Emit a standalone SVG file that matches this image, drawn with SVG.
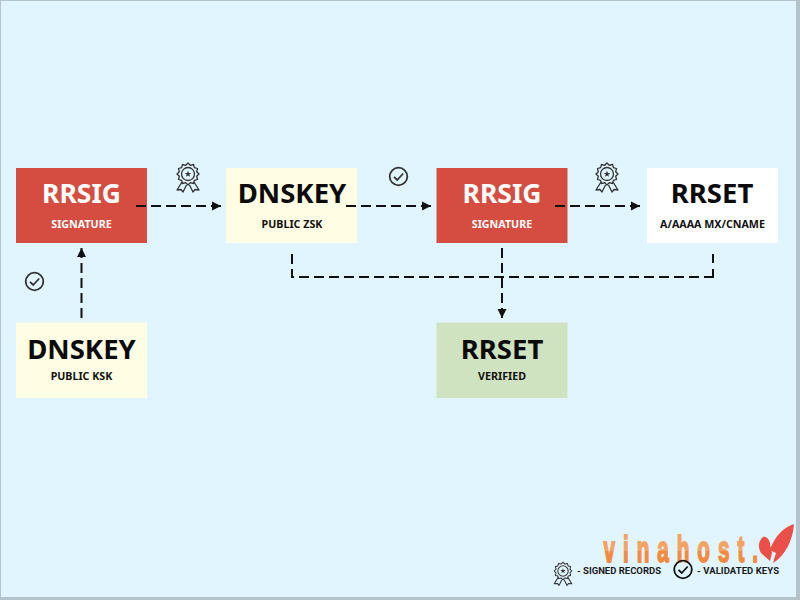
<svg xmlns="http://www.w3.org/2000/svg" width="800" height="600" viewBox="0 0 800 600">
<style>
.box{stroke:none}
.red{fill:#d54c41}.yel{fill:#fffde3}.wht{fill:#ffffff}.grn{fill:#cfe3c0}
.t{font-family:"Noto Sans","Open Sans",sans-serif;font-weight:700;text-anchor:middle}
.big{font-size:27.500px;fill:#0a0a0a}
.rs{font-size:26.500px}
.sub{font-size:10.700px;fill:#111}
.w{fill:#ffffff}
.lg{font-family:Roboto,"Liberation Sans",sans-serif;font-weight:700;font-size:9.500px;fill:#1a1a1a}
.con{fill:none;stroke:#111;stroke-width:2;stroke-dasharray:10 5}
.ic{fill:none;stroke:#333;stroke-width:1.300;stroke-linejoin:round}
</style>
<defs>
<marker id="ah" markerUnits="userSpaceOnUse" markerWidth="10" markerHeight="10" refX="9" refY="5" orient="auto"><path d="M0 .5L9 5L0 9.5Z" fill="#111"/></marker>
<linearGradient id="og" x1="0" y1="0" x2="0" y2="1"><stop offset="0" stop-color="#f6a261"/><stop offset=".55" stop-color="#f6a261"/><stop offset=".55" stop-color="#f28b3f"/><stop offset="1" stop-color="#f28b3f"/></linearGradient>
<symbol id="medal" overflow="visible" viewBox="-13 -13 26 34" width="26" height="34">
<path class="ic" d="M11 0L8.700 2.300L9.500 5.500L6.400 6.400L5.500 9.500L2.300 8.700L0 11L-2.300 8.700L-5.500 9.500L-6.400 6.400L-9.500 5.500L-8.700 2.300L-11 0L-8.700 -2.300L-9.500 -5.500L-6.400 -6.400L-5.500 -9.500L-2.300 -8.700L0 -11L2.300 -8.700L5.500 -9.500L6.400 -6.400L9.500 -5.500L8.700 -2.300Z"/>
<circle class="ic" r="6.500"/>
<path d="M0 -3.500L.8 -1.100L3.300 -1.100L1.300 .4L2.100 2.800L0 1.400L-2.100 2.800L-1.300 .4L-3.300 -1.100L-.8 -1.100Z" fill="#333"/>
<path class="ic" d="M-6 8L-11 16L-7 15.500L-5 18L-1.500 11M6 8L11 16L7 15.500L5 18L1.500 11"/>
</symbol>
<symbol id="check" overflow="visible" viewBox="-10 -10 20 20" width="20" height="20">
<circle r="8.800" fill="none" stroke="currentColor" stroke-width="1.800"/>
<path d="M-4.500 .3L-1.300 3.500L4.700 -3" fill="none" stroke="currentColor" stroke-width="1.800"/>
</symbol>
</defs>
<rect width="800" height="600" fill="#b4c3c9"/>
<rect x="1" y="1" width="795" height="596" fill="#e0f5ff"/>

<g id="node-rrsig-1"><rect class="box red" x="16" y="168" width="131" height="75"/><text class="t big rs w" x="81.500" y="203">RRSIG</text><text class="t sub w" x="81.500" y="227.500">SIGNATURE</text></g>
<g id="node-dnskey-zsk"><rect class="box yel" x="226" y="168" width="131" height="75"/><text class="t big" x="292" y="203">DNSKEY</text><text class="t sub" x="292" y="227.500">PUBLIC ZSK</text></g>
<g id="node-rrsig-2"><rect class="box red" x="436.500" y="168" width="131" height="75"/><text class="t big rs w" x="502" y="203">RRSIG</text><text class="t sub w" x="502" y="227.500">SIGNATURE</text></g>
<g id="node-rrset-1"><rect class="box wht" x="647" y="168" width="131" height="75"/><text class="t big" x="712" y="203">RRSET</text><text class="t sub" x="712.500" y="227.500">A/AAAA MX/CNAME</text></g>
<g id="node-dnskey-ksk"><rect class="box yel" x="16" y="322.500" width="131" height="75.500"/><text class="t big" x="81.500" y="358.500">DNSKEY</text><text class="t sub" x="81.500" y="380">PUBLIC KSK</text></g>
<g id="node-rrset-verified"><rect class="box grn" x="436.500" y="322.500" width="131" height="75.500"/><text class="t big" x="502" y="359">RRSET</text><text class="t sub" x="502" y="380">VERIFIED</text></g>

<g id="connectors">
<path class="con" marker-end="url(#ah)" d="M136 206H221"/>
<path class="con" marker-end="url(#ah)" d="M346 206H431"/>
<path class="con" marker-end="url(#ah)" d="M555 206H640"/>
<path class="con" marker-end="url(#ah)" d="M81.500 318V248"/>
<path class="con" marker-end="url(#ah)" d="M502 248V318"/>
<path class="con" d="M292 254V277H713"/>
<path class="con" style="stroke-dasharray:9 6" d="M713 254V278"/>
</g>

<g id="icons" color="#333">
<use href="#medal" x="175" y="161"/>
<use href="#medal" x="594" y="161"/>
<use href="#check" x="388.500" y="166.500"/>
<use href="#check" x="24.500" y="271.500"/>
</g>

<g id="watermark">
<text transform="translate(603.500 562) scale(.56 1)" textLength="276" lengthAdjust="spacing" font-family="Liberation Sans, sans-serif" font-weight="700" font-size="37" fill="url(#og)" stroke="url(#og)" stroke-width="1.800">vinahost.</text>
<path fill="#ea4f48" d="M763 537C758 541 758 548 761 553L770 561L772 553C771 549 770 545 770 543C769 539 766 536 763 537ZM794 524C784 527 774 537 770 550L776 553L773 563C785 556 793 540 794 524Z"/>
</g>

<g id="legend" color="#111">
<use href="#medal" x="552.600" y="560.600" width="20.800" height="27.200"/>
<text class="lg" x="577" y="574" textLength="84">- SIGNED RECORDS</text>
<use href="#check" x="673" y="559.500"/>
<text class="lg" x="697" y="574" textLength="82">- VALIDATED KEYS</text>
</g>
</svg>
